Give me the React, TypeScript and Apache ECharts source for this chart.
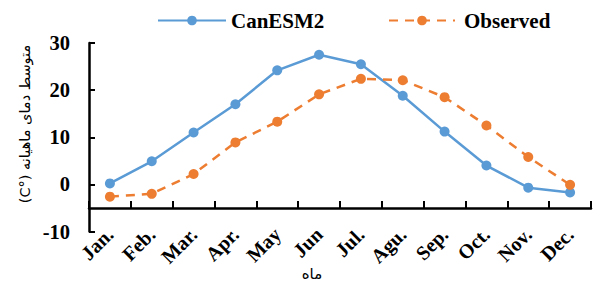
import React, { useEffect, useRef } from "react";
import * as echarts from "echarts";

const months = ["Jan.", "Feb.", "Mar.", "Apr.", "May", "Jun", "Jul.", "Agu.", "Sep.", "Oct.", "Nov.", "Dec."];
const canESM2 = [0.2, 4.9, 11.0, 17.0, 24.2, 27.5, 25.5, 18.8, 11.2, 4.0, -0.7, -1.7];
const observed = [-2.6, -2.0, 2.2, 8.9, 13.3, 19.1, 22.4, 22.1, 18.5, 12.5, 5.8, -0.1];
const yTitle = "(C°) متوسط دمای ماهیانه";
const xTitle = "ماه";

const BLUE = "#5B9BD5";
const ORANGE = "#ED7D31";
const SERIF = "Times New Roman, Liberation Serif, DejaVu Serif, serif";

export default function App() {
  const ref = useRef<HTMLDivElement>(null);
  useEffect(() => {
    if (!ref.current) return;
    const chart = echarts.init(ref.current, null, { renderer: "svg" });
    chart.setOption({
      animation: false,
      backgroundColor: "#ffffff",
      grid: { left: 89, right: 7, top: 43, bottom: 52.5, containLabel: false },
      legend: [
        {
          data: ["CanESM2"],
          left: 152,
          top: 5,
          itemWidth: 68,
          itemHeight: 12,
          textStyle: { fontFamily: SERIF, fontWeight: "bold", fontSize: 21, color: "#000", padding: [0, 0, 0, 0] },
        },
        {
          data: ["Observed"],
          left: 383,
          top: 5,
          itemWidth: 66,
          itemHeight: 12,
          textStyle: { fontFamily: SERIF, fontWeight: "bold", fontSize: 21, color: "#000", padding: [0, 0, 0, 4] },
        },
      ],
      xAxis: {
        type: "category",
        data: months,
        boundaryGap: true,
        offset: -23.6,
        axisLine: { onZero: false, lineStyle: { color: "#000", width: 2.5 } },
        axisTick: { show: true, inside: true, length: 7, lineStyle: { color: "#000", width: 2 } },
        axisLabel: {
          rotate: 45,
          margin: 23,
          interval: 0,
          fontFamily: SERIF,
          fontWeight: "bold",
          fontSize: 20,
          color: "#000",
        },
        splitLine: { show: false },
      },
      yAxis: {
        type: "value",
        min: -10,
        max: 30,
        interval: 10,
        axisLine: { show: true, lineStyle: { color: "#000", width: 2.5 } },
        axisTick: { show: true, inside: true, length: 6, lineStyle: { color: "#000", width: 2 } },
        axisLabel: {
          margin: 19,
          fontFamily: SERIF,
          fontWeight: "bold",
          fontSize: 20.5,
          color: "#000",
        },
        splitLine: { show: false },
      },
      graphic: [
        {
          type: "text",
          x: 25,
          y: 124,
          rotation: Math.PI / 2,
          style: {
            text: yTitle,
            fontFamily: "DejaVu Sans",
            fontWeight: "normal",
            fontSize: 14.5,
            fill: "#000",
            textAlign: "center",
            textVerticalAlign: "middle",
          },
        },
        {
          type: "text",
          x: 312,
          y: 274,
          style: {
            text: xTitle,
            fontFamily: "DejaVu Sans",
            fontWeight: "normal",
            fontSize: 15,
            fill: "#000",
            textAlign: "center",
            textVerticalAlign: "middle",
          },
        },
      ],
      series: [
        {
          name: "CanESM2",
          type: "line",
          data: canESM2,
          symbol: "circle",
          symbolSize: 10,
          lineStyle: { color: BLUE, width: 2.5 },
          itemStyle: { color: BLUE },
        },
        {
          name: "Observed",
          type: "line",
          data: observed,
          symbol: "circle",
          symbolSize: 10,
          lineStyle: { color: ORANGE, width: 2.5, type: [9, 7] },
          itemStyle: { color: ORANGE },
        },
      ],
    });
    return () => chart.dispose();
  }, []);
  return <div ref={ref} style={{ width: 598, height: 284, position: "absolute", left: 0, top: 0 }} />;
}
